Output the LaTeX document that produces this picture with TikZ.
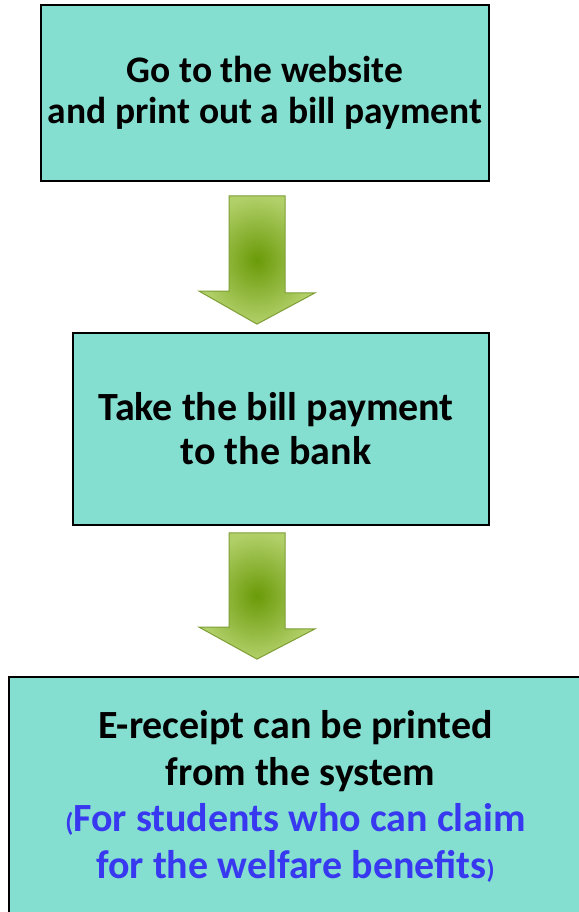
\documentclass[tikz,border=0pt]{standalone}
\usepackage{fontspec}
\setmainfont{Carlito}
\usepackage{tikz}
\usetikzlibrary{positioning,calc}
\definecolor{stepfill}{HTML}{84DFD0}
\definecolor{noteblue}{HTML}{3838F0}
\definecolor{arrowlight}{HTML}{B2D06A}
\definecolor{arrowdark}{HTML}{6A9A08}
\definecolor{arrowedge}{HTML}{7E9E36}

\begin{document}
\begin{tikzpicture}[x=1pt, y=-1pt,
    stepbox/.style={draw=black, line width=1.8pt, fill=stepfill, align=center,
      font=\fontsize{37.5}{41}\selectfont\bfseries, inner sep=0pt},
    blockarrow/.style={draw=arrowedge, line width=1pt, inner color=arrowdark, outer color=arrowlight}]
      \useasboundingbox[fill=white] (0,0) rectangle (578,912);
      \node[stepbox, minimum width=448pt, minimum height=176pt] (web) at (265,93)
        {Go to the website\\and print out a bill payment};
      \node[stepbox, minimum width=416pt, minimum height=192pt,
        font=\fontsize{40}{44}\selectfont\bfseries] (bank) at (281,429)
        {Take the bill payment\hspace*{10pt}\\to the bank\hspace*{10pt}};
      \node[stepbox, minimum width=573pt, minimum height=239pt,
        font=\fontsize{40}{46.5}\selectfont\bfseries] (receipt) at (295.5,796.5)
        {E-receipt can be printed\\\hspace*{10pt}from the system\\
         \textcolor{noteblue}{{\fontsize{26}{26}\selectfont(}For students who can claim}\\
         \textcolor{noteblue}{for the welfare benefits{\fontsize{26}{26}\selectfont)}}};
      % block arrows between the steps
      \coordinate (a1) at ($(web.south)+(-8,14)$);
      \coordinate (a2) at ($(bank.north)+(-24,-8)$);
      \shade[blockarrow] (a1) ++(-28,0) -- ++(56,0) -- ++(0,97) -- ++(30,0)
        -- (a2) -- ++(-58,-33) -- ++(30,0) -- cycle;
      \coordinate (b1) at ($(bank.south)+(-24,7)$);
      \coordinate (b2) at ($(receipt.north)+(-38.5,-17)$);
      \shade[blockarrow] (b1) ++(-28,0) -- ++(56,0) -- ++(0,96) -- ++(30,0)
        -- (b2) -- ++(-58,-32) -- ++(30,0) -- cycle;
    \end{tikzpicture}
\end{document}
